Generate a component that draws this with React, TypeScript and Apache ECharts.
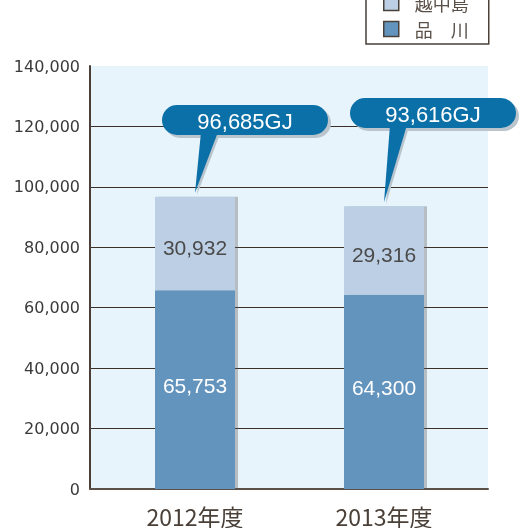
import React, { useEffect, useRef } from "react";
import * as echarts from "echarts";

const categories = ["2012年度", "2013年度"];
const shinagawa = [65753, 64300];
const etchujima = [30932, 29316];
const yTicks = [0, 20000, 40000, 60000, 80000, 100000, 120000, 140000];

// callout layout (pixels)
const calloutTop = [105, 98];
const calloutDx = [50, 49];

const fmt = (v: number) => v.toLocaleString("en-US");

export default function App() {
  const ref = useRef<HTMLDivElement>(null);
  useEffect(() => {
    if (!ref.current) return;
    const chart = echarts.init(ref.current, undefined, { renderer: "svg" });
    const totals = shinagawa.map((v, i) => v + etchujima[i]);
    const yMax = yTicks[yTicks.length - 1];
    const yInterval = yTicks[1] - yTicks[0];
    chart.setOption({
      animation: false,
      grid: [
        { left: 90, right: 33, top: 66, bottom: 39, show: true, backgroundColor: "#e8f4fc", borderWidth: 0 },
        { left: 100.5, right: 42.5, top: 66, bottom: 39 },
      ],
      legend: {
        orient: "vertical",
        left: 366,
        top: -12,
        itemWidth: 15,
        itemHeight: 15,
        itemGap: 8,
        padding: [6, 20, 6, 17],
        borderColor: "#4a4038",
        borderWidth: 1.5,
        borderRadius: 0,
        data: [
          { name: "越中島", icon: "rect" },
          { name: "品　川", icon: "rect" },
        ],
        itemStyle: { borderColor: "#4a4038", borderWidth: 1.5 },
        textStyle: {
          fontSize: 18,
          color: "#5a5048",
          fontFamily: "Noto Sans CJK JP",
          padding: [0, 0, 0, 11],
        },
      },
      xAxis: [
        {
          type: "category",
          gridIndex: 0,
          data: categories,
          axisLine: { show: true, lineStyle: { color: "#5a5048", width: 2 } },
          axisTick: { show: false },
          axisLabel: { show: false },
          splitLine: { show: false },
        },
        {
          type: "category",
          gridIndex: 1,
          data: categories,
          axisLine: { show: false },
          axisTick: { show: false },
          axisLabel: {
            margin: 15,
            fontSize: 23,
            color: "#4a4038",
            fontFamily: "Noto Sans CJK JP",
          },
        },
      ],
      yAxis: [
        {
          type: "value",
          gridIndex: 0,
          min: 0,
          max: yMax,
          interval: yInterval,
          axisLine: { show: true, lineStyle: { color: "#4a4038", width: 2 } },
          axisTick: { show: false },
          axisLabel: {
            margin: 10,
            fontSize: 16,
            color: "#3a3a3a",
            fontFamily: "DejaVu Sans",
            formatter: (v: number) => fmt(v),
          },
          splitLine: {
            show: true,
            showMaxLine: false,
            showMinLine: false,
            lineStyle: { color: "#3a3028", width: 1 },
          },
        },
        {
          type: "value",
          gridIndex: 1,
          min: 0,
          max: yMax,
          interval: yInterval,
          show: false,
          splitLine: { show: false },
        },
      ],
      series: [
        {
          name: "品　川",
          type: "bar",
          stack: "total",
          xAxisIndex: 1,
          yAxisIndex: 1,
          barWidth: 80,
          data: shinagawa,
          itemStyle: {
            color: "#6394be",
            shadowColor: "rgba(90,90,90,0.35)",
            shadowOffsetX: 3,
            shadowOffsetY: 0,
            shadowBlur: 0,
          },
          label: {
            show: true,
            position: "inside",
            offset: [0, -4],
            fontSize: 21,
            color: "#ffffff",
            fontFamily: "Liberation Sans",
            formatter: (p: any) => fmt(p.value),
          },
        },
        {
          name: "越中島",
          type: "bar",
          stack: "total",
          xAxisIndex: 1,
          yAxisIndex: 1,
          barWidth: 80,
          data: etchujima,
          itemStyle: {
            color: "#bdcfe4",
            shadowColor: "rgba(90,90,90,0.35)",
            shadowOffsetX: 3,
            shadowOffsetY: 0,
            shadowBlur: 0,
          },
          label: {
            show: true,
            position: "inside",
            offset: [0, 4],
            fontSize: 21,
            color: "#4a4a4a",
            fontFamily: "Liberation Sans",
            formatter: (p: any) => fmt(p.value),
          },
        },
        {
          type: "custom",
          xAxisIndex: 1,
          yAxisIndex: 1,
          silent: true,
          data: totals.map((t, i) => [i, t]),
          renderItem: (params: any, api: any) => {
            const i = params.dataIndex;
            const p = api.coord([api.value(0), api.value(1)]);
            const tipX = p[0];
            const tipY = p[1] - 4;
            const w = 166;
            const h = 30;
            const cx = tipX + calloutDx[i];
            const x = cx - w / 2;
            const y = calloutTop[i];
            const bottom = y + h;
            const tail = [
              [tipX + 6, bottom - 3],
              [tipX + 23, bottom - 3],
              [tipX, tipY],
            ];
            const shadowTail = tail.map((pt) => [pt[0] + 2, pt[1] + 2]);
            return {
              type: "group",
              children: [
                { type: "rect", shape: { x: x + 3, y: y + 3, width: w, height: h, r: 15 }, style: { fill: "#b9c4cc" } },
                { type: "polygon", shape: { points: shadowTail }, style: { fill: "#b9c4cc" } },
                { type: "polygon", shape: { points: tail }, style: { fill: "#0b70a7" } },
                { type: "rect", shape: { x, y, width: w, height: h, r: 15 }, style: { fill: "#0b70a7" } },
                {
                  type: "text",
                  x: cx,
                  y: y + h / 2 + 1,
                  style: {
                    text: fmt(api.value(1)) + "GJ",
                    fill: "#ffffff",
                    fontSize: 22,
                    fontFamily: "Liberation Sans",
                    align: "center",
                    verticalAlign: "middle",
                  },
                },
              ],
            };
          },
        },
      ],
    });
    return () => chart.dispose();
  }, []);
  return (
    <div
      ref={ref}
      style={{ position: "fixed", left: 0, top: 0, width: 521, height: 528 }}
    />
  );
}
